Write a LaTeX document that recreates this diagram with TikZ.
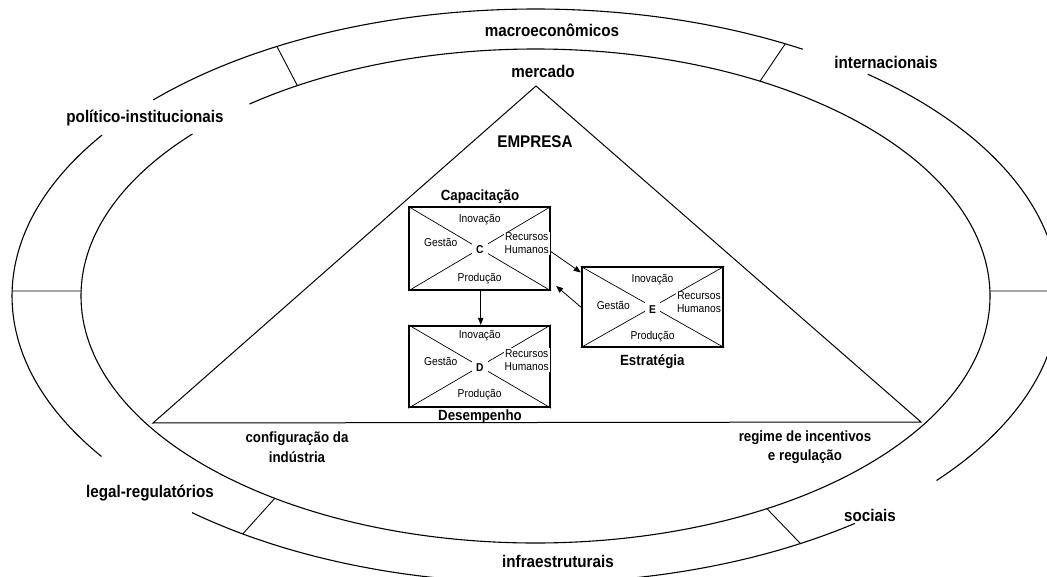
\documentclass[tikz,border=0pt]{standalone}
\usepackage{fontspec}
\setmainfont{Liberation Sans}[FakeStretch=0.9]
\usetikzlibrary{calc,arrows.meta}
\newcommand\outerarc[2]{\draw[ringline] ($(O)+(#1:523.5pt and 287pt)$) arc[start angle=#1, end angle=#2, x radius=523.5pt, y radius=287pt];}
\newcommand\innerarc[2]{\draw[ringline] ($(O)+(#1:454.5pt and 247pt)$) arc[start angle=#1, end angle=#2, x radius=454.5pt, y radius=247pt];}
\begin{document}
\begin{tikzpicture}[x=1pt,y=-1pt,
  big/.style={font=\fontsize{16.9}{18}\selectfont\bfseries, inner sep=0pt, align=center},
  mid/.style={font=\fontsize{14.8}{19.5}\selectfont\bfseries, inner sep=0pt, align=center},
  small/.style={font=\fontsize{11.4}{13.3}\selectfont, inner sep=1pt, fill=white, align=center},
  ltr/.style={font=\fontsize{11.4}{13}\selectfont\bfseries, inner sep=4.5pt, fill=white},
  xbox/.style={draw, line width=1.8pt, inner sep=0pt},
  diag/.style={line width=0.7pt},
  ringline/.style={line width=1.1pt},
  divline/.style={line width=0.9pt},
  arr/.style={line width=0.8pt, -{Triangle[length=7pt,width=5.5pt]}},
]
\useasboundingbox (0,0) rectangle (1047,577);
\fill[white] (0,0) rectangle (1047,577);
\clip (0,0) rectangle (1047,577);
\coordinate (O) at (535.5,296);
% outer ring with gaps for labels
\outerarc{59.3}{136.9}
\outerarc{145.9}{214}
\outerarc{229}{307.6}
\outerarc{320}{410.6}
% inner ring
\innerarc{139}{489}
% dividers
\coordinate (o1) at ($(O)+(61.5:523.5pt and 287pt)$);
\coordinate (i1) at ($(O)+(60.4:454.5pt and 247pt)$);
\coordinate (o2) at ($(O)+(119.6:523.5pt and 287pt)$);
\coordinate (i2) at ($(O)+(121.6:454.5pt and 247pt)$);
\coordinate (o3) at ($(O)+(179:523.5pt and 287pt)$);
\coordinate (i3) at ($(O)+(178.84:454.5pt and 247pt)$);
\coordinate (o4) at ($(O)+(236:523.5pt and 287pt)$);
\coordinate (i4) at ($(O)+(235:454.5pt and 247pt)$);
\coordinate (o5) at ($(O)+(300.4:523.5pt and 287pt)$);
\coordinate (i5) at ($(O)+(300.6:454.5pt and 247pt)$);
\coordinate (o6) at ($(O)+(1:523.5pt and 287pt)$);
\coordinate (i6) at ($(O)+(1.16:454.5pt and 247pt)$);
\draw[divline] (o1) -- (i1) (o2) -- (i2) (o3) -- (i3) (o4) -- (i4) (o5) -- (i5) (o6) -- (i6);
% triangle
\coordinate (apex) at (536,86);
\coordinate (bl) at (153,423);
\coordinate (br) at (921,422);
\draw[line width=1pt] (apex) -- (bl) -- (br) -- cycle;
% ring labels
\node[big] (macro) at (552,30) {macroeconômicos};
\node[big] (inter) at (886,62) {internacionais};
\node[big] (polit) at (145,118) {político-institucionais};
\node[big] (legal) at (150,493) {legal-regulatórios};
\node[big] (soc) at (870,515) {sociais};
\node[big] (infra) at (558,561) {infraestruturais};
\node[big] (merc) at (543,71) {mercado};
\node[big] (emp) at (535,142) {EMPRESA};
\node[mid] (conf) at (297,447) {configuração da\\indústria};
\node[mid] (reg) at (805,447) {regime de incentivos\\e regulação};
% boxes
\node[xbox, minimum width=141pt, minimum height=82.7pt] (Cbox) at (479.7,248.7) {};
\node[xbox, minimum width=141pt, minimum height=81.6pt] (Dbox) at (479.7,366.5) {};
\node[xbox, minimum width=141.6pt, minimum height=79.4pt] (Ebox) at (652.5,307) {};
\foreach \b in {Cbox,Dbox,Ebox}{
  \draw[diag] (\b.north west) -- (\b.south east) (\b.north east) -- (\b.south west);
}
% C box texts
\node[small] (Cin) at ($(Cbox)+(0,-29.4)$) {Inovação};
\node[small] (Cge) at ($(Cbox)+(-39,-6)$) {Gestão};
\node[small] (Crh) at ($(Cbox)+(47,-5.3)$) {Recursos\\Humanos};
\node[small] (Cpr) at ($(Cbox)+(0,30.3)$) {Produção};
\node[ltr] (Cl) at ($(Cbox)+(0,1.3)$) {C};
% D box texts
\node[small] (Din) at ($(Dbox)+(0,-30.5)$) {Inovação};
\node[small] (Dge) at ($(Dbox)+(-39,-4.8)$) {Gestão};
\node[small] (Drh) at ($(Dbox)+(47,-6.5)$) {Recursos\\Humanos};
\node[small] (Dpr) at ($(Dbox)+(0,28.5)$) {Produção};
\node[ltr] (Dl) at ($(Dbox)+(0,0.8)$) {D};
% E box texts
\node[small] (Ein) at ($(Ebox)+(0,-27.7)$) {Inovação};
\node[small] (Ege) at ($(Ebox)+(-39.2,-2)$) {Gestão};
\node[small] (Erh) at ($(Ebox)+(46.5,-4.8)$) {Recursos\\Humanos};
\node[small] (Epr) at ($(Ebox)+(0,29.7)$) {Produção};
\node[ltr] (El) at ($(Ebox)+(0,2.3)$) {E};
% box titles
\node[mid] (Ctit) at (480,196.7) {Capacitação};
\node[mid] (Dtit) at (480,417) {Desempenho};
\node[mid] (Etit) at (652.3,361.7) {Estratégia};
% arrows
\draw[arr] ([yshift=-3pt]Cbox.east) -- ([yshift=-6pt]Ebox.north west);
\draw[arr] (Ebox.west) -- ([xshift=5pt,yshift=5pt]Cbox.south east);
\draw[arr] ([xshift=1pt]Cbox.south) -- ([xshift=1pt]Dbox.north);
\end{tikzpicture}
\end{document}
